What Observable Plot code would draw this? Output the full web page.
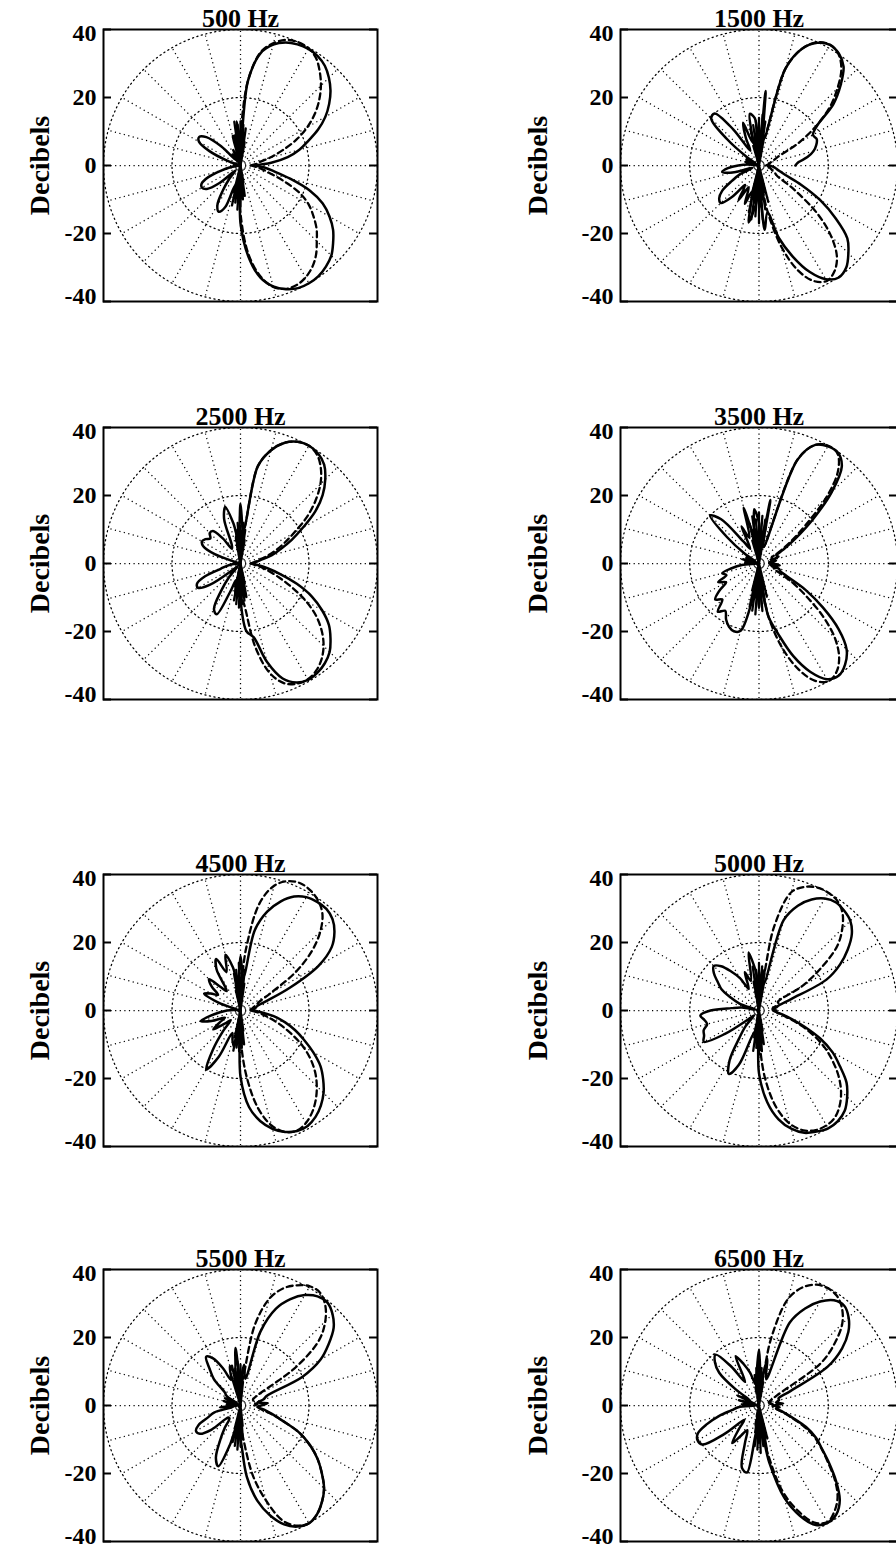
<!DOCTYPE html>
<html>
<head>
<meta charset="utf-8">
<script src="https://cdn.jsdelivr.net/npm/d3@7"></script>
<script src="https://cdn.jsdelivr.net/npm/@observablehq/plot@0.6"></script>
<style>
html, body { margin: 0; padding: 0; background: #fff; }
#chart { position: relative; width: 896px; height: 1556px; overflow: hidden; background: #fff; }
</style>
</head>
<body>
<div id="chart"></div>
<script>
// ---- data ----
const titles = ["500 Hz", "1500 Hz", "2500 Hz", "3500 Hz", "4500 Hz", "5000 Hz", "5500 Hz", "6500 Hz"];
const yLabel = "Decibels";
const yTicks = [-40, -20, 0, 20, 40];
const yTickLabels = ["-40", "-20", "0", "20", "40"];
const gridRadii = [20, 40];
const spokeAngles = [0, 15, 30, 45, 60, 75, 90, 105, 120, 135, 150, 165, 180, 195, 210, 225, 240, 255, 270, 285, 300, 315, 330, 345];
const angles = [0,5,10,15,20,25,30,35,40,45,50,55,60,65,70,75,80,85,90,95,100,105,110,115,120,125,130,135,140,145,150,155,160,165,170,175,180,185,190,195,200,205,210,215,220,225,230,235,240,245,250,255,260,265,270,275,280,285,290,295,300,305,310,315,320,325,330,335,340,345,350,355,360];

const solid500 = [4,9,14,17.8,21,25,28.6,31.6,34.3,36.5, 38.3,39.3,39.6,39.3,38.5,36.8,33.5,25,8,13, 4,9,1,5,0.5,4,2,8,13,14.7, 14,10,4,0.5,2,0.5,2,0.5,3,6, 10,12.5,13,12,8,2,5,9,13.5,15, 13,6,9,2,17,27,33.5,36.8,38.7,39.8, 40,39.7,38.8,37.5,35.3,33,30,26.5,21.5,15, 10,7,4];
const dashed500 = [3,4.5,5.5,9,13,18,22.5,26.5,30,33.2, 36,38.5,39.8,40,39.3,37.3,33.8,25,10,6, 9,0.6,0.2,0.5,0.2,0.6,0.3,0.5,0.2,0.6, 0.3,0.5,0.2,0.5,0.3,0.6,0.2,0.5,0.3,0.6, 0.2,0.5,0.3,0.5,0.2,0.6,0.3,0.5,0.2,0.6, 0.3,1,6,2,14,26,33,37,38.6,38.8, 38,36.5,34.3,31.5,29,26,23,19,13.5,9, 6.5,4.5,3];
const spikes500 = [[80,7],[82,11],[84,6],[86,12],[88,8],[90,13],[92,7],[94,12],[96,9],[98,13],[100,6],[102,9],[104,5],[256,8],[258,12],[260,7],[262,11],[264,9],[266,13],[268,8],[270,12],[272,7],[274,10],[276,6],[278,9],[280,5]];

const solid1500 = [10.5,11.5,14.2,16.3,17.6,18.4,18,20.5,28,33.3, 38,40.2,41,39.8,36.6,29.5,8,22,6,14, 15.4,7,13.4,9,5,13,20,19.5,12,4, 1,4,0.5,4,0.5,3,6,9,10.8,8, 2,6,9,13,15,15.6,12,7,11.8,7, 12,8,17,12,8,19,14,22,28.5,34.5, 38.6,40.2,39.2,36.5,33.3,27,20.5,13.5,8,6, 5,4,3];
const dashed1500 = [2,2.5,3,3.5,4.5,6,13,20,26.7,32, 37,40,41,40,36.6,29.5,8,12,5,9, 8,0.5,0.2,0.6,0.3,0.5,0.2,0.5,0.3,0.6, 0.2,0.5,0.3,0.5,0.2,0.6,0.3,0.5,0.2,0.5, 0.3,0.6,0.2,0.5,0.3,0.5,0.2,0.6,0.3,0.5, 0.2,1,6,3,7,4,13,24.5,32.8,37.5, 39.2,38,35,29.5,22,12.5,6,5,4,3.5, 3,2.5,2];
const spikes1500 = [[80,9],[82,13],[84,8],[86,15],[88,10],[90,14],[92,9],[94,13],[96,8],[98,12],[100,7],[103,11],[106,6],[256,9],[258,14],[260,10],[262,16],[264,11],[266,15],[268,9],[270,17],[272,12],[274,16],[276,10],[278,13],[281,8],[284,11]];

const solid2500 = [3,4.5,6,9.5,12.5,16.5,21,26.6,31.3,35, 38,39.5,40,39.5,37.8,34.5,29,10,17.5,7, 12,17.2,14,6,5,9,12.5,12.7,11.5,12.5, 13,12,8,1,0.5,2,0.5,2,4,6, 11,14,14.3,11,3,1,5,10,15.5,16.5, 9,5,9,4,10.7,20,22,30,36,38.6, 39.5,39.2,38.3,36.8,34.3,31.5,27.5,23,17.5,12, 8,5,3];
const dashed2500 = [3,4,5,7.5,10.5,14,18,23.5,28.5,33, 36.5,39,40,39.5,37.8,34.5,29,10,15,5, 8,0.6,0.2,0.5,0.2,0.6,0.3,0.5,0.2,0.6, 0.3,0.5,0.2,0.5,0.3,0.6,0.2,0.5,0.3,0.6, 0.2,0.5,0.3,0.5,0.2,0.6,0.3,0.5,0.2,0.6, 0.3,1,6,2,9,12,25,33.5,37.5,39, 39.3,38.5,36.8,34.3,31,27,22,16.5,12,8.5, 6,4,3];
const spikes2500 = [[80,7],[82,10],[84,6],[86,12],[88,8],[90,11],[92,7],[94,12],[96,8],[98,10],[100,6],[258,7],[260,11],[262,8],[264,12],[266,9],[268,13],[270,8],[272,12],[274,9],[276,11],[278,7],[280,10],[282,6]];

const solid3500 = [4,3,5,4,6,5.5,8,13,20.5,29.7, 37.2,39.8,39.8,38.5,32.5,5,19,7,12,16, 9,17,8,12,5,8,17,20,12,5, 1,4,0.5,5,1,4,0.5,5,8,11, 10,13,11,14,16.5,15,18.5,17,19,20.5, 21.2,20.5,11,7,13,7,16,21.5,29,35.2, 39.3,40.2,38.7,35.8,30,22.5,15.5,9,6.5,6, 4,6,4];
const dashed3500 = [3,3,4,3,4,4,6.5,11,17.5,27.5, 35.5,39.5,40,38.5,32.5,5,12,5,9,4, 10,0.5,0.2,0.6,0.3,0.5,0.2,0.5,0.3,0.6, 0.2,0.5,0.3,0.5,0.2,0.6,0.3,0.5,0.2,0.5, 0.3,0.6,0.2,0.5,0.3,0.5,0.2,0.6,0.3,0.5, 0.2,1,7,3,10,6,16,25.5,33,38, 40,39,36,31,24,16.5,11,6.5,4.5,5, 3,4,3];
const spikes3500 = [[80,9],[82,13],[84,8],[86,14],[88,10],[90,15],[92,9],[94,13],[96,10],[98,14],[100,8],[103,12],[106,7],[256,8],[258,13],[260,9],[262,14],[264,10],[266,15],[268,9],[270,13],[272,10],[274,14],[276,8],[278,12],[280,7],[283,10]];

const solid4500 = [4,3,4.5,5,8,16,26.3,32.5,35.8,38, 39,39,38.5,37,34.1,30.1,24,10,16,8, 13,17,12,16.7,14,7,9,13,11,8, 10,11.7,7,1,0.5,2,4,6,9,12, 9,5,7,9.7,6,4,8,14,20,15, 7,9,10.9,5,19.5,28.5,33,36,38,39.1, 39.2,38.2,36.5,34.3,31.5,28.5,24.5,20.5,17,13.5, 10,6,4];
const dashed4500 = [3,3,3.5,4,5,6,10,19.5,27.2,33, 37.2,39.5,40.8,41.3,40.5,38,32,18,6,5, 8,0.6,0.2,0.5,0.2,0.6,0.3,0.5,0.2,0.6, 0.3,0.5,0.2,0.5,0.3,0.6,0.2,0.5,0.3,0.6, 0.2,0.5,0.3,0.5,0.2,0.6,0.3,0.5,0.2,0.6, 0.3,1,6,2,8,19,29,35,38,39, 38.2,36.5,34.2,31.5,28.5,25,21,16.5,12.5,9, 6.5,4.5,3];
const spikes4500 = [[82,8],[84,12],[86,7],[88,13],[90,9],[92,14],[94,8],[96,12],[98,7],[100,11],[103,6],[258,8],[260,12],[262,7],[264,11],[266,8],[268,12],[270,9],[272,11],[274,7],[276,10],[278,6]];

const solid5000 = [5,4,5,6,10,21.5,27,31.3,35,37.3, 38.3,38.8,38,36,32.8,27.5,8,12,8,12, 17.3,9,12,7,11,14,17,18.5,17,14.5, 12.5,9,6,1,5,8,14,17,16,15.5, 17,17.5,18.4,12,4,2,6,10,17,20.6, 17,8,6,5,18.5,27,32.5,36,38.3,39.3, 40,39.7,38.5,36,33,28.5,24.5,19.5,14,9.8, 7,5,5];
const dashed5000 = [4,4,4,5,6,6,14.5,22,29.5,34, 37.5,39.4,40,39.9,38.7,36,25,8,10,5, 9,0.5,0.2,0.6,0.3,0.5,0.2,0.5,0.3,0.6, 0.2,0.5,0.3,0.5,0.2,0.6,0.3,0.5,0.2,0.5, 0.3,0.6,0.2,0.5,0.3,0.5,0.2,0.6,0.3,0.5, 0.2,1,6,3,8,20,29,34.5,37.5,38.8, 39,38.3,36.3,33.5,30,26,22,17.5,13,9, 6.5,5,4];
const spikes5000 = [[80,8],[82,12],[84,7],[86,13],[88,9],[90,14],[92,8],[94,12],[96,9],[98,13],[100,7],[260,8],[262,12],[264,7],[266,11],[268,9],[270,13],[272,8],[274,12],[276,7],[278,10],[280,6]];

const solid5500 = [6,8,5,7,8,20,27,31.4,35.5,38, 39.5,39.2,37.5,34.5,30.3,22.5,8,12,8,17, 10,12,8,12,16,17.5,14,11,6,5, 1,5,0.5,5,0.5,4,0.5,6,2,8, 10,13.5,15,14.5,11,5,5,8,12,17, 19,12,6,8,10,21,28.5,33.5,37.2,39.3, 40,39,37,34.5,31,27.5,23.5,19,13,9.5, 7,5,6];
const dashed5500 = [4,5,4,4,4,4,5,20,30,35, 38.5,40.5,40.5,39,36.7,32.5,24,8,6,10, 5,0.6,0.2,0.5,0.2,0.6,0.3,0.5,0.2,0.6, 0.3,0.5,0.2,0.5,0.3,0.6,0.2,0.5,0.3,0.6, 0.2,0.5,0.3,0.5,0.2,0.6,0.3,0.5,0.2,0.6, 0.3,1,6,2,5,10,21,29,36,39, 40,39,37,34.5,31,27.5,23.5,19,13,9, 6,5,4];
const spikes5500 = [[84,7],[86,11],[88,6],[90,12],[92,8],[94,13],[96,7],[98,11],[100,8],[102,12],[104,6],[107,9],[256,7],[258,11],[260,8],[262,12],[264,9],[266,13],[268,8],[270,12],[272,7],[274,10],[276,6]];

const solid6500 = [4,7,5,6,6,10,23,29.3,33.7,36.6, 38.3,37.8,35.3,31.5,26,8,14,8,16.5,9, 7,10,13,16,8,14,19.5,18,15,8, 3,7,1,6,0.5,5,1,6,8,12, 16,19.5,20.5,20,13,6,9,13.5,10,8, 12,19,20,8,11,8,17,28,34.5,38.8, 39.8,39,36.3,31.5,26.5,22.2,19,15,10,7, 5,6,4];
const dashed6500 = [4,4,3,4,3,4,6,22,28.6,34, 37.3,39.3,39.8,39.2,37,32.5,20,6,10,5, 8,0.5,0.2,0.6,0.3,0.5,0.2,0.5,0.3,0.6, 0.2,0.5,0.3,0.5,0.2,0.6,0.3,0.5,0.2,0.5, 0.3,0.6,0.2,0.5,0.3,0.5,0.2,0.6,0.3,0.5, 0.2,1,6,3,6,6,14,26,33,38, 39.6,38,35.3,31,26,22,18.5,14,9.5,6.5, 5,4,4];
const spikes6500 = [[80,7],[82,10],[84,6],[86,11],[88,8],[90,12],[92,7],[94,11],[96,6],[98,9],[262,8],[264,12],[266,7],[268,13],[270,9],[272,14],[274,8],[276,12],[278,9],[280,13],[282,7],[284,10]];

const panels = [
  {title: titles[0], solid: solid500,  dashed: dashed500,  spikes: spikes500},
  {title: titles[1], solid: solid1500, dashed: dashed1500, spikes: spikes1500},
  {title: titles[2], solid: solid2500, dashed: dashed2500, spikes: spikes2500},
  {title: titles[3], solid: solid3500, dashed: dashed3500, spikes: spikes3500},
  {title: titles[4], solid: solid4500, dashed: dashed4500, spikes: spikes4500},
  {title: titles[5], solid: solid5000, dashed: dashed5000, spikes: spikes5000},
  {title: titles[6], solid: solid5500, dashed: dashed5500, spikes: spikes5500},
  {title: titles[7], solid: solid6500, dashed: dashed6500, spikes: spikes6500}
];

// ---- layout ----
const FONT = "'Liberation Serif', 'Times New Roman', serif";
const boxTops = [29, 427, 874, 1269];
const colLeft = [0, 448];
const colWidth = [448, 449];
const boxLeftInCol = [103, 172];
const boxWidths = [274, 277];
const labelOffsets = [63, 82];
const boxH = 272, mTop = 29, mBottom = 12;
const rad = Math.PI / 180;

const toXY = (rs) => angles.map((a, k) => ({x: rs[k] * Math.cos(a * rad), y: rs[k] * Math.sin(a * rad)}));
const spikeXY = (sp) => sp.flatMap(([a, r]) => [{x: 0, y: 0}, {x: r * Math.cos(a * rad), y: r * Math.sin(a * rad)}]).concat([{x: 0, y: 0}]);
const circlePts = gridRadii.flatMap(r => d3.range(0, 361, 2).map(a => ({r, x: r * Math.cos(a * rad), y: r * Math.sin(a * rad)})));
const rMax = d3.max(gridRadii);
const fmt = d => yTickLabels[yTicks.indexOf(d)];
const midTicks = yTicks.slice(1, -1);
const topTick = [yTicks[yTicks.length - 1]];
const bottomTick = [yTicks[0]];

const chart = document.getElementById("chart");

panels.forEach((p, i) => {
  const col = i % 2, row = Math.floor(i / 2);
  const mL = boxLeftInCol[col];
  const boxW = boxWidths[col];
  const W = colWidth[col];
  const axisOpts = {anchor: "left", tickSize: 0, tickPadding: 7, label: null, tickFormat: fmt, fontSize: 24, fontWeight: "bold", fontFamily: FONT};
  const svg = Plot.plot({
    width: W,
    height: mTop + boxH + mBottom,
    marginLeft: mL,
    marginRight: W - mL - boxW,
    marginTop: mTop,
    marginBottom: mBottom,
    x: {domain: [-40, 40], axis: null},
    y: {domain: [-40, 40]},
    style: {
      position: "absolute",
      left: colLeft[col] + "px",
      top: (boxTops[row] - mTop) + "px",
      fontFamily: FONT,
      fontWeight: "bold",
      color: "#000",
      background: "transparent",
      overflow: "visible",
      maxWidth: "none"
    },
    marks: [
      // polar grid
      Plot.line(circlePts, {x: "x", y: "y", z: "r", stroke: "#000", strokeWidth: 1.25, strokeDasharray: "1.2,3.4"}),
      Plot.link(spokeAngles, {
        x1: () => 0, y1: () => 0,
        x2: a => rMax * Math.cos(a * rad), y2: a => rMax * Math.sin(a * rad),
        stroke: "#000", strokeWidth: 1.25, strokeDasharray: "1.2,3.4"
      }),
      // data
      Plot.line(toXY(p.dashed), {x: "x", y: "y", curve: "catmull-rom", stroke: "#000", strokeWidth: 2.3, strokeDasharray: "6,4"}),
      Plot.line(spikeXY(p.spikes), {x: "x", y: "y", stroke: "#000", strokeWidth: 2.3, strokeLinejoin: "round"}),
      Plot.line(toXY(p.solid), {x: "x", y: "y", curve: "catmull-rom", stroke: "#000", strokeWidth: 2.5}),
      // frame and inward ticks
      Plot.frame({stroke: "#000", strokeWidth: 2}),
      Plot.ruleY(yTicks, {insetRight: boxW - 8, stroke: "#000", strokeWidth: 2}),
      Plot.ruleY(yTicks, {insetLeft: boxW - 8, stroke: "#000", strokeWidth: 2}),
      Plot.axisY(midTicks, axisOpts),
      Plot.axisY(topTick, {...axisOpts, dy: 4}),
      Plot.axisY(bottomTick, {...axisOpts, dy: -5}),
      // title and y label
      Plot.text([p.title], {text: d => d, frameAnchor: "top", lineAnchor: "bottom", dy: -3, fontSize: 26, fontWeight: "bold", fontFamily: FONT, fill: "#000"}),
      Plot.text([yLabel], {text: d => d, frameAnchor: "left", rotate: -90, textAnchor: "middle", dx: -labelOffsets[col], fontSize: 28, fontWeight: "bold", fontFamily: FONT, fill: "#000"})
    ]
  });
  chart.appendChild(svg);
});
</script>
</body>
</html>
